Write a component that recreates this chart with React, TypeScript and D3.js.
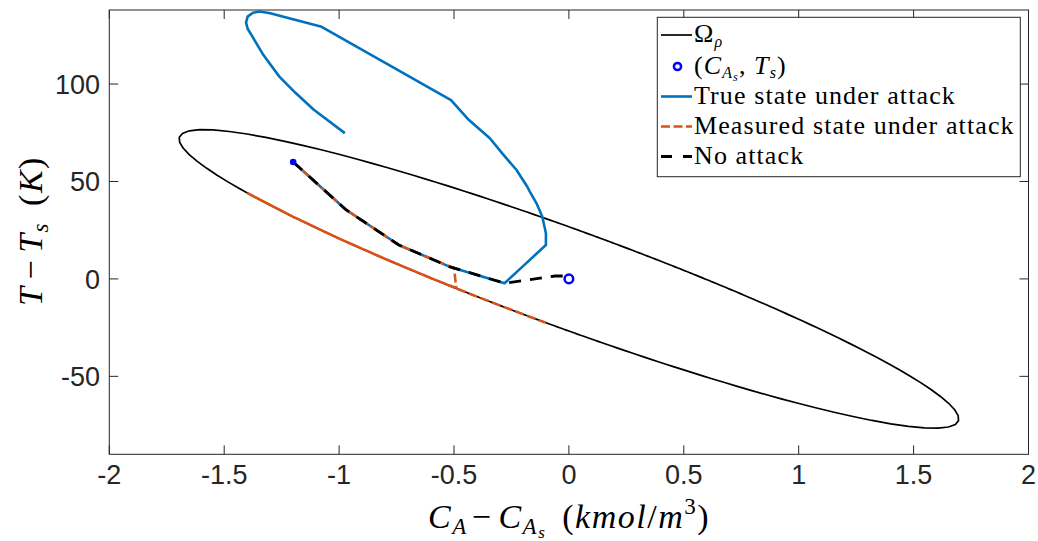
import React from "react";
import * as d3 from "d3";

// axis ticks
const xTicks = [-2, -1.5, -1, -0.5, 0, 0.5, 1, 1.5, 2];
const yTicks = [-50, 0, 50, 100];

// stability region Omega_rho : x' P x <= rho
const P = [
  [1060, 22],
  [22, 0.52],
];
const rho = 372;

// true state under attack
const trueX = [-1.2, -0.97, -0.74, -0.52, -0.28, -0.19, -0.1, -0.1, -0.116, -0.141, -0.17, -0.181, -0.228, -0.29, -0.344, -0.435, -0.513, -1.076, -1.3, -1.345, -1.375, -1.398, -1.405, -1.398, -1.377, -1.33, -1.26, -1.19, -1.11, -0.975];
const trueY = [60, 35.5, 17.4, 6.3, -2.2, 7.6, 17.4, 23.4, 32, 38.8, 44.8, 47.3, 55.9, 64.4, 72.2, 81.5, 91.8, 129.4, 136.3, 137.2, 136.6, 134.6, 131.5, 128.4, 124.3, 115, 103.8, 95.5, 86.8, 74.8];

// measured state under attack
const measX = [-1.2, -0.97, -0.74, -0.5, -0.49, -0.6, -0.8, -1.0, -1.2, -1.4, -1.2, -1.0, -0.8, -0.6, -0.4, -0.2, -0.1];
const measY = [60, 35.5, 17.4, 5.5, -4.6, 0.4, 10.3, 20.7, 31.9, 44.1, 31.9, 20.7, 10.3, 0.4, -9.1, -18.1, -22.5];

// no attack
const noAtkX = [-1.2, -0.97, -0.74, -0.52, -0.28, -0.06, -0.01, 0];
const noAtkY = [60, 35.5, 17.4, 6.3, -2.2, 1.5, 1.5, 0];

const steady = [0, 0];
const start = [-1.2, 60];

const W = 1038;
const H = 541;
const plot = { left: 109.3, right: 1028.5, top: 10, bottom: 454.3 };

const axisColor = "#262626";
const blue = "#0072BD";
const orange = "#D95319";
const serif = "'Liberation Serif', 'Times New Roman', serif";
const sans = "'Liberation Sans', Arial, sans-serif";

const App = () => {
  const x = d3.scaleLinear().domain([-2, 2]).range([plot.left, plot.right]);
  const y = d3.scaleLinear().domain([-90, 138]).range([plot.bottom, plot.top]);

  const line = d3
    .line<number[]>()
    .x((d) => x(d[0]))
    .y((d) => y(d[1]));

  const zip = (a: number[], b: number[]) => a.map((v, i) => [v, b[i]]);

  // boundary of the level set, sampled by direction
  const ell: number[][] = d3.range(0, 361, 1).map((deg) => {
    const t = (deg * Math.PI) / 180;
    const d = [Math.cos(t), 40 * Math.sin(t)];
    const q = P[0][0] * d[0] * d[0] + 2 * P[0][1] * d[0] * d[1] + P[1][1] * d[1] * d[1];
    const r = Math.sqrt(rho / q);
    return [r * d[0], r * d[1]];
  });

  const tickLen = 9;

  const legendRows = [35, 66.5, 96.5, 126.5, 156.5];
  const lx0 = 661;
  const lx1 = 692;
  const tx = 694;
  const lfs = 26;
  const ls = 1.1;

  return (
    <svg width={W} height={H} style={{ position: "absolute", left: 0, top: 0, background: "#fff" }}>
      <defs>
        <clipPath id="clip">
          <rect x={plot.left} y={plot.top} width={plot.right - plot.left} height={plot.bottom - plot.top} />
        </clipPath>
      </defs>
      <rect x={0} y={0} width={W} height={H} fill="#fff" />

      {/* axes box */}
      <rect
        x={plot.left}
        y={plot.top}
        width={plot.right - plot.left}
        height={plot.bottom - plot.top}
        fill="none"
        stroke={axisColor}
        strokeWidth={1}
      />
      {xTicks.map((t) => (
        <g key={"xt" + t}>
          <line x1={x(t)} x2={x(t)} y1={plot.bottom} y2={plot.bottom - tickLen} stroke={axisColor} />
          <line x1={x(t)} x2={x(t)} y1={plot.top} y2={plot.top + tickLen} stroke={axisColor} />
          <text x={x(t)} y={484} textAnchor="middle" fontFamily={sans} fontSize={27} fill={axisColor}>
            {String(t)}
          </text>
        </g>
      ))}
      {yTicks.map((t) => (
        <g key={"yt" + t}>
          <line x1={plot.left} x2={plot.left + tickLen} y1={y(t)} y2={y(t)} stroke={axisColor} />
          <line x1={plot.right} x2={plot.right - tickLen} y1={y(t)} y2={y(t)} stroke={axisColor} />
          <text x={100} y={y(t) + 10} textAnchor="end" fontFamily={sans} fontSize={27} fill={axisColor}>
            {String(t)}
          </text>
        </g>
      ))}

      <g clipPath="url(#clip)">
        <path d={line(ell) + "Z"} fill="none" stroke="#000" strokeWidth={1.7} />
        <path d={line(zip(trueX, trueY)) || ""} fill="none" stroke={blue} strokeWidth={2.6} strokeLinejoin="round" />
        <path
          d={line(zip(measX, measY)) || ""}
          fill="none"
          stroke={orange}
          strokeWidth={2.5}
          strokeDasharray="9,3.5"
        />
        <path
          d={line(zip(noAtkX, noAtkY)) || ""}
          fill="none"
          stroke="#000"
          strokeWidth={2.8}
          strokeDasharray="12,9"
        />
        <circle cx={x(steady[0])} cy={y(steady[1])} r={4.3} fill="none" stroke="#0000FF" strokeWidth={2.5} />
        <circle cx={x(start[0])} cy={y(start[1])} r={3.3} fill="#0000FF" />
      </g>

      {/* legend */}
      <rect x={657.3} y={17.3} width={363} height={159.4} fill="#fff" stroke={axisColor} strokeWidth={1} />
      <line x1={lx0} x2={lx1} y1={legendRows[0]} y2={legendRows[0]} stroke="#000" strokeWidth={1.7} />
      <circle cx={(lx0 + lx1) / 2 + 1} cy={legendRows[1]} r={3.6} fill="none" stroke="#0000FF" strokeWidth={2.5} />
      <line x1={lx0} x2={lx1} y1={legendRows[2]} y2={legendRows[2]} stroke={blue} strokeWidth={2.6} />
      <line
        x1={lx0}
        x2={lx1}
        y1={legendRows[3]}
        y2={legendRows[3]}
        stroke={orange}
        strokeWidth={2.5}
        strokeDasharray="9,3.5"
      />
      <line
        x1={lx0}
        x2={lx1}
        y1={legendRows[4]}
        y2={legendRows[4]}
        stroke="#000"
        strokeWidth={2.8}
        strokeDasharray="11,11"
      />
      <g fontFamily={serif} fontSize={lfs} fill="#000" letterSpacing={ls}>
        <text x={tx} y={legendRows[0] + 7}>
          Ω<tspan fontStyle="italic" fontSize={16} dy={5}>ρ</tspan>
        </text>
        <text x={tx} y={legendRows[1] + 7}>
          (<tspan fontStyle="italic">C</tspan>
          <tspan fontStyle="italic" fontSize={16} dy={4}>A</tspan>
          <tspan fontStyle="italic" fontSize={12} dy={3}>s</tspan>
          <tspan dy={-7}>, </tspan>
          <tspan fontStyle="italic">T</tspan>
          <tspan fontStyle="italic" fontSize={16} dy={4}>s</tspan>
          <tspan dy={-4}>)</tspan>
        </text>
        <text x={tx} y={legendRows[2] + 7}>True state under attack</text>
        <text x={tx} y={legendRows[3] + 7}>Measured state under attack</text>
        <text x={tx} y={legendRows[4] + 7}>No attack</text>
      </g>

      {/* x label */}
      <text x={569} y={528} textAnchor="middle" fontFamily={serif} fontSize={34} fill="#000" letterSpacing={1.5}>
        <tspan fontStyle="italic">C</tspan>
        <tspan fontStyle="italic" fontSize={23} dy={6}>A</tspan>
        <tspan dy={-6} dx={4}>−</tspan>
        <tspan fontStyle="italic" dx={6}>C</tspan>
        <tspan fontStyle="italic" fontSize={23} dy={6}>A</tspan>
        <tspan fontStyle="italic" fontSize={17} dy={4}>s</tspan>
        <tspan dy={-10} dx={16}>(</tspan>
        <tspan fontStyle="italic">kmol</tspan>
        <tspan>/</tspan>
        <tspan fontStyle="italic">m</tspan>
        <tspan fontSize={23} dy={-14}>3</tspan>
        <tspan dy={14}>)</tspan>
      </text>

      {/* y label */}
      <text
        transform="translate(42,231) rotate(-90)"
        textAnchor="middle"
        fontFamily={serif}
        fontSize={34}
        fill="#000"
        letterSpacing={1.5}
      >
        <tspan fontStyle="italic">T</tspan>
        <tspan dx={6}>−</tspan>
        <tspan fontStyle="italic" dx={6}>T</tspan>
        <tspan fontStyle="italic" fontSize={23} dy={6}>s</tspan>
        <tspan dy={-6} dx={16}>(</tspan>
        <tspan fontStyle="italic">K</tspan>
        <tspan>)</tspan>
      </text>
    </svg>
  );
};

export default App;
